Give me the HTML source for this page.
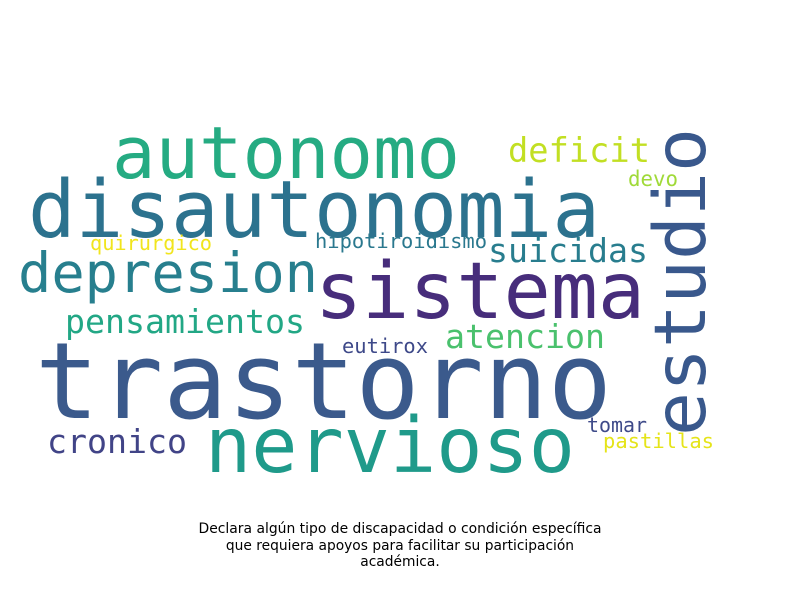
<!DOCTYPE html>
<html><head><meta charset="utf-8"><style>
html,body{margin:0;padding:0;background:#fff;}
svg text.w{font-family:"DejaVu Sans Mono","Liberation Mono",monospace;}
svg text.c{font-family:"DejaVu Sans","Liberation Sans",sans-serif;font-size:13.8px;fill:#000;}
</style></head><body>
<svg width="800" height="600" viewBox="0 0 800 600" xmlns="http://www.w3.org/2000/svg">
<rect width="800" height="600" fill="#fff"/>
<g id="words"></g>
<text class="c" x="400" y="533" text-anchor="middle" textLength="403" lengthAdjust="spacingAndGlyphs">Declara algún tipo de discapacidad o condición específica</text>
<text class="c" x="400" y="550" text-anchor="middle">que requiera apoyos para facilitar su participación</text>
<text class="c" x="400" y="566" text-anchor="middle">académica.</text>
</svg>
<script>
const words = ["trastorno","disautonomia","autonomo","sistema","depresion","nervioso","estudio","deficit","devo","quirurgico","hipotiroidismo","suicidas","pensamientos","atencion","eutirox","cronico","tomar","pastillas"];
const sizes = [106,79,72,78,55,77,71,34,21,20,20.5,33,33,33,20.5,33,20,20.5];
const colors = ["#3b5a8c","#2c728e","#25ab82","#472d7b","#277f8e","#1f9a8a","#39588c","#c2df23","#a0da39","#f1e51d","#2a788e","#287d8e","#22a785","#4ac16d","#3e4989","#414487","#3e4a89","#e5e419"];
const xs = [35,28,112,315,18,205,705,508,628,90,315,488,65,445,342,47,587,603];
const ys = [418,237,178,318,292,472,436,162,186,250,248,262,333,348,353,453,432,448];
const widths = [577,572,348,330,300,370,308,142,50,122,172,160,240,160,86,140,60,111];
const rotated = [0,0,0,0,0,0,1,0,0,0,0,0,0,0,0,0,0,0];
const g = document.getElementById('words');
words.forEach((w,i)=>{
  const t = document.createElementNS('http://www.w3.org/2000/svg','text');
  t.setAttribute('class','w');
  t.setAttribute('x',0);t.setAttribute('y',0);
  t.setAttribute('font-size',sizes[i]);
  t.setAttribute('fill',colors[i]);
  t.setAttribute('textLength',widths[i]);
  t.setAttribute('lengthAdjust','spacingAndGlyphs');
  t.setAttribute('transform','translate('+xs[i]+','+ys[i]+')'+(rotated[i]?' rotate(-90)':''));
  t.textContent = w;
  
  
  g.appendChild(t);
});
</script>
</body></html>
